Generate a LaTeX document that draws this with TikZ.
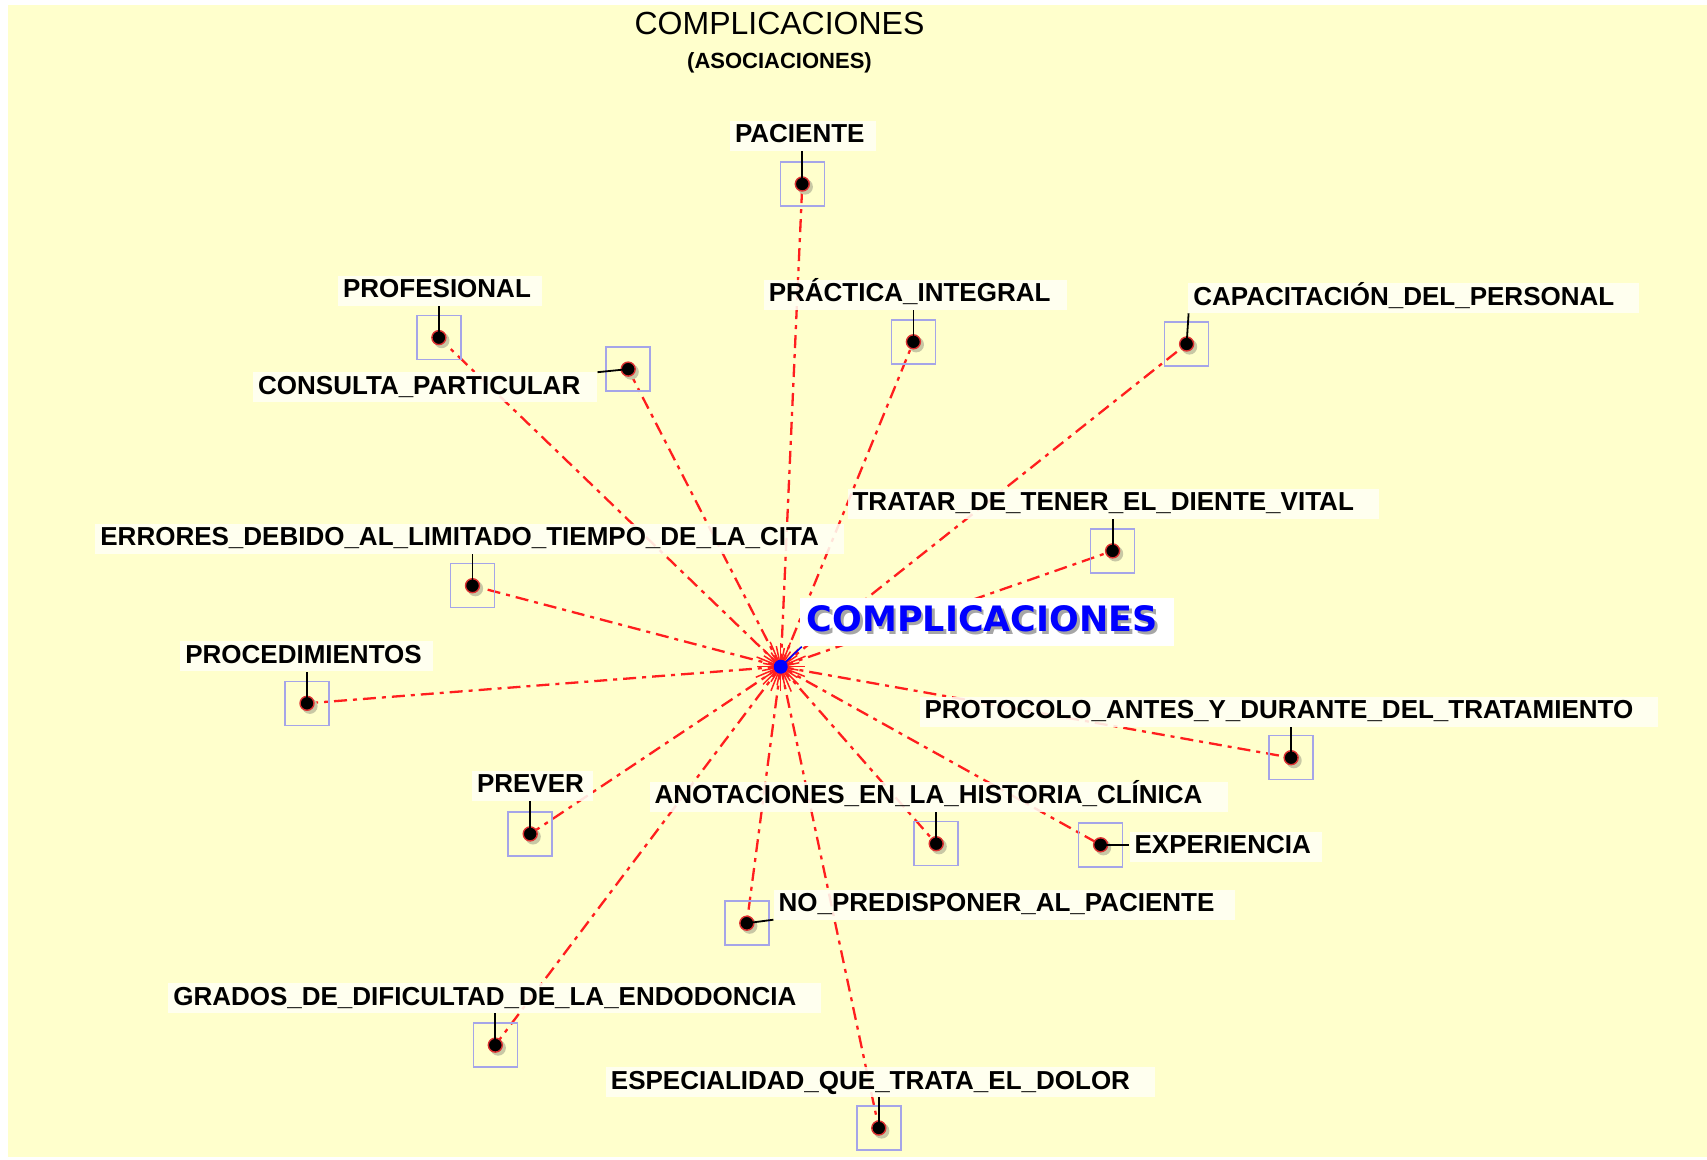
\documentclass[tikz,border=0pt]{standalone}
\usepackage{fontspec}
\setmainfont{Liberation Sans}
\newfontfamily\dejavu{DejaVu Sans}
\definecolor{bgyellow}{RGB}{255,255,204}
\definecolor{lblbg}{RGB}{255,255,244}
\definecolor{boxblue}{RGB}{165,165,232}
\definecolor{dotring}{RGB}{220,50,50}
\definecolor{dotshadow}{RGB}{200,200,165}
\definecolor{linered}{RGB}{255,30,30}
\definecolor{centerblue}{RGB}{0,0,255}
\tikzset{
  lbl/.style={fill=lblbg, fill opacity=0.88, text opacity=1, anchor=west,
    inner xsep=5pt, inner ysep=3pt, text height=19pt, text depth=5pt,
    font=\fontsize{26}{30}\selectfont\bfseries},
  dbox/.style={draw=boxblue, line width=1.5pt, minimum size=44pt, inner sep=0pt},
  reddash/.style={draw=linered, line width=2.3pt, dash pattern=on 13pt off 6pt on 4pt off 6pt},
  conn/.style={draw=black, line width=1.8pt},
  burst/.style={draw=linered, line width=1.5pt}
}
\begin{document}
\begin{tikzpicture}[x=1pt,y=-1pt]
\useasboundingbox (0,0) rectangle (1707,1159);
\fill[bgyellow] (8,5) rectangle (1707,1157);

% title
\node[font=\fontsize{32}{36}\selectfont, inner sep=0pt] (title) at (779.5,23.3) {COMPLICACIONES};
\node[font=\fontsize{22}{26}\selectfont\bfseries, inner sep=0pt] (subtitle) at (779.5,63.3) {(ASOCIACIONES)};

% centre and dots
\coordinate (c) at (780.7,666.7);
\coordinate (d1) at (802.3,184.0);
\coordinate (d2) at (438.9,337.6);
\coordinate (d3) at (628.2,369.1);
\coordinate (d4) at (913.4,341.8);
\coordinate (d5) at (1186.6,344.0);
\coordinate (d6) at (1112.6,550.9);
\coordinate (d7) at (472.5,585.7);
\coordinate (d8) at (307.0,703.3);
\coordinate (d9) at (1291.1,757.7);
\coordinate (d10) at (530.2,833.9);
\coordinate (d11) at (936.2,843.7);
\coordinate (d12) at (1100.6,844.8);
\coordinate (d13) at (746.8,923.2);
\coordinate (d14) at (495.3,1045.1);
\coordinate (d15) at (878.8,1128.0);

% red dashed connectors
\foreach \i in {1,...,15} \draw[reddash] (c) -- (d\i);

% labels
\node[lbl] (l1) at (729.8,135.9) {PACIENTE\kern6pt};
\node[lbl] (l2) at (337.9,290.5) {PROFESIONAL\kern6pt};
\node[lbl] (l3) at (253.0,387.4) {CONSULTA\_PARTICULAR\kern12pt};
\node[lbl] (l4) at (763.6,294.8) {PRÁCTICA\_INTEGRAL\kern12pt};
\node[lbl] (l5) at (1188.2,298.1) {CAPACITACIÓN\_DEL\_PERSONAL\kern20pt};
\node[lbl] (l6) at (847.4,503.9) {TRATAR\_DE\_TENER\_EL\_DIENTE\_VITAL\kern20pt};
\node[lbl] (l7) at (95.2,538.7) {ERRORES\_DEBIDO\_AL\_LIMITADO\_TIEMPO\_DE\_LA\_CITA\kern20pt};
\node[lbl] (l8) at (180.1,656.3) {PROCEDIMIENTOS\kern6pt};
\node[lbl] (l9) at (919.3,711.8) {PROTOCOLO\_ANTES\_Y\_DURANTE\_DEL\_TRATAMIENTO\kern20pt};
\node[lbl] (l10) at (471.8,785.8) {PREVER\kern4pt};
\node[lbl] (l11) at (649.3,796.7) {ANOTACIONES\_EN\_LA\_HISTORIA\_CLÍNICA\kern20pt};
\node[lbl] (l12) at (1129.4,846.8) {EXPERIENCIA\kern6pt};
\node[lbl] (l13) at (773.4,904.5) {NO\_PREDISPONER\_AL\_PACIENTE\kern16pt};
\node[lbl] (l14) at (168.1,998.1) {GRADOS\_DE\_DIFICULTAD\_DE\_LA\_ENDODONCIA\kern20pt};
\node[lbl] (l15) at (605.7,1082.0) {ESPECIALIDAD\_QUE\_TRATA\_EL\_DOLOR\kern20pt};

% boxes and dots
\foreach \i in {1,...,15} {
  \node[dbox] (b\i) at (d\i) {};
  \fill[dotshadow] ([shift={(2.8,2.8)}]d\i) circle (7.8);
  \filldraw[fill=black, draw=dotring, line width=1.4pt] (d\i) circle (7);
}

% label-to-dot connectors
\draw[conn] (d1) -- (d1 |- l1.south);
\draw[conn] (d2) -- (d2 |- l2.south);
\draw[conn] (d3) -- (l3.north east);
\draw[conn] (d4) -- (d4 |- l4.south);
\draw[conn] (d5) -- ([xshift=2pt]d5 |- l5.south);
\draw[conn] (d6) -- (d6 |- l6.south);
\draw[conn] (d7) -- (d7 |- l7.south);
\draw[conn] (d8) -- (d8 |- l8.south);
\draw[conn] (d9) -- (d9 |- l9.south);
\draw[conn] (d10) -- (d10 |- l10.south);
\draw[conn] (d11) -- (d11 |- l11.south);
\draw[conn] (d12) -- (d12 -| l12.west);
\draw[conn] (d13) -- (l13.south west);
\draw[conn] (d14) -- (d14 |- l14.south);
\draw[conn] (d15) -- (d15 |- l15.south);

% centre starburst
\foreach \a/\r in {0/24,11/18,22/26,33/20,45/25,56/17,67/27,78/21,90/24,101/19,112/26,123/18,135/25,146/20,157/27,168/19,180/24,191/18,202/26,213/20,225/25,236/17,247/27,258/21,270/24,281/19,292/26,303/18,315/25,326/20,337/27,348/19}
  \draw[burst] (c) -- ([shift={(\a:\r)}]c);
\draw[centerblue, line width=1.6pt] (c) -- ([shift={(21,-20)}]c);
\fill[centerblue] (c) circle (7);

% central label
\node[fill=white, minimum width=374pt, minimum height=48pt, inner sep=0pt, anchor=north west] (clbg) at (800,598) {};
\node[anchor=base west, inner sep=0pt, text=black!35, font=\dejavu\fontsize{35}{40}\selectfont\bfseries] (clsh) at (809.2,634.3) {COMPLICACIONES};
\node[anchor=base west, inner sep=0pt, text=centerblue, font=\dejavu\fontsize{35}{40}\selectfont\bfseries] (cl) at (806.7,631.8) {COMPLICACIONES};
\end{tikzpicture}
\end{document}
